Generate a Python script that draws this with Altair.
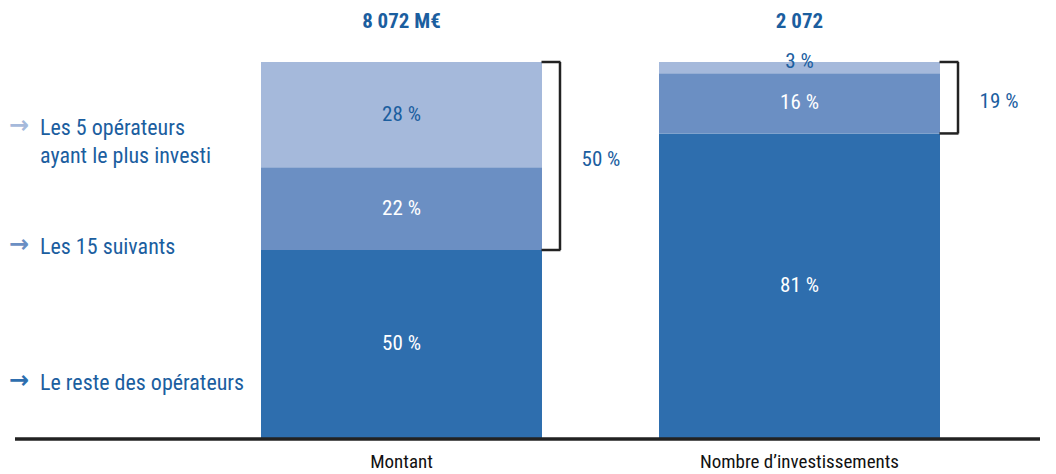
import altair as alt
import pandas as pd

# ---- data ----
categories = ["Montant", "Nombre d\u2019investissements"]
segments = ["Le reste des opérateurs", "Les 15 suivants", "Les 5 opérateurs ayant le plus investi"]
montant_pct = [50, 22, 28]
nombre_pct = [81, 16, 3]
totals = ["8 072 M€", "2 072"]
bracket_labels = ["50 %", "19 %"]

seg_colors = ["#2e6eae", "#6b8fc3", "#a5b9db"]
BLUE_TXT = "#1b5e9f"
FONT = "Roboto Condensed, Roboto, sans-serif"

rows = []
brackets = []
for cat, vals, blab in zip(categories, [montant_pct, nombre_pct], bracket_labels):
    cum = 0
    for i, (seg, v) in enumerate(zip(segments, vals)):
        rows.append(dict(cat=cat, seg=seg, value=v, start=cum, end=cum + v,
                         mid=cum + v / 2, label=f"{v} %",
                         tcolor=BLUE_TXT if i == len(vals) - 1 else "white"))
        cum += v
    brackets.append(dict(cat=cat, start=vals[0], end=sum(vals),
                         mid=(vals[0] + sum(vals)) / 2, label=blab))
df = pd.DataFrame(rows)
dfb = pd.DataFrame(brackets)
dft = pd.DataFrame(dict(cat=categories, total=totals, top=[100, 100]))

R0, R1, PAD = 253, 932, 0.294
step = (R1 - R0) / (2 - PAD)
half_band = step * (1 - PAD) / 2
BR = 18  # bracket distance from bar edge

xscale = alt.Scale(domain=categories, range=[R0, R1], paddingInner=PAD, paddingOuter=0)
yscale = alt.Scale(domain=[0, 100], range=[430, 54])
xaxis = alt.Axis(title=None, domain=False, ticks=False, labelAngle=0, labelFont=FONT,
                 labelFontSize=19, labelColor="#111", labelPadding=14, labelLimit=0)


def X(**kw):
    return alt.X("cat:N", scale=xscale, axis=xaxis, **kw)


def Y(field):
    return alt.Y(field, type="quantitative", scale=yscale, axis=None)


bars = alt.Chart(df).mark_bar().encode(
    x=X(), y=Y("start"), y2="end",
    color=alt.Color("seg:N", scale=alt.Scale(domain=segments, range=seg_colors), legend=None),
)

df_lab = df.assign(ly=[r["end"] if r["value"] < 5 else r["mid"] for r in rows])
seg_text = alt.Chart(df_lab).mark_text(font=FONT, fontSize=21).encode(
    x=X(), y=Y("ly"), text="label:N", color=alt.Color("tcolor:N", scale=None),
)

tot_text = alt.Chart(dft).mark_text(font=FONT, fontSize=21, fontWeight="bold",
                                    color=BLUE_TXT, dy=-40).encode(
    x=X(), y=Y("top"), text="total:N")

vrule = alt.Chart(dfb).mark_rule(xOffset=BR, strokeWidth=2.5, color="#222").encode(
    x=X(bandPosition=1), y=Y("start"), y2="end")
tick_top = alt.Chart(dfb).mark_tick(orient="horizontal", size=BR + 1, thickness=2.5,
                                    xOffset=half_band + BR / 2, color="#222", opacity=1).encode(
    x=X(), y=Y("end"))
tick_bot = alt.Chart(dfb).mark_tick(orient="horizontal", size=BR + 1, thickness=2.5,
                                    xOffset=half_band + BR / 2, color="#222", opacity=1).encode(
    x=X(), y=Y("start"))
br_text = alt.Chart(dfb).mark_text(font=FONT, fontSize=21, color=BLUE_TXT, dx=59, dy=4).encode(
    x=X(bandPosition=1), y=Y("mid"), text="label:N")

baseline = alt.Chart(dft).mark_rule(strokeWidth=3, color="#222").encode(
    x=alt.value(7), x2=alt.value(1032), y=alt.value(431))

# left-hand legend labels with arrows
left_defs = [
    (["Les 5 opérateurs", "ayant le plus investi"], 120, seg_colors[2]),
    (["Les 15 suivants"], 239, seg_colors[1]),
    (["Le reste des opérateurs"], 375, seg_colors[0]),
]
left_layers = []
for lines, ypix, acol in left_defs:
    left_layers.append(
        alt.Chart(dft.head(1)).mark_text(font=FONT, fontSize=22, align="left", baseline="middle",
                                          color=BLUE_TXT, lineHeight=28).encode(
            x=alt.value(32), y=alt.value(ypix), text=alt.value(lines)))
    left_layers.append(
        alt.Chart(dft.head(1)).mark_text(font="DejaVu Sans", fontSize=24, align="left",
                                          baseline="middle", color=acol, fontWeight="bold").encode(
            x=alt.value(1), y=alt.value(ypix - 2), text=alt.value("\u2192")))

chart = alt.layer(bars, seg_text, tot_text, vrule, tick_top, tick_bot, br_text, baseline,
                  *left_layers).properties(
    width=1040, height=430,
    autosize=alt.AutoSizeParams(type="none"),
    padding={"left": 0, "top": 0, "right": 0, "bottom": 36},
).configure_view(stroke=None)

chart.save("out.html", embed_options={"renderer": "svg", "actions": False})
